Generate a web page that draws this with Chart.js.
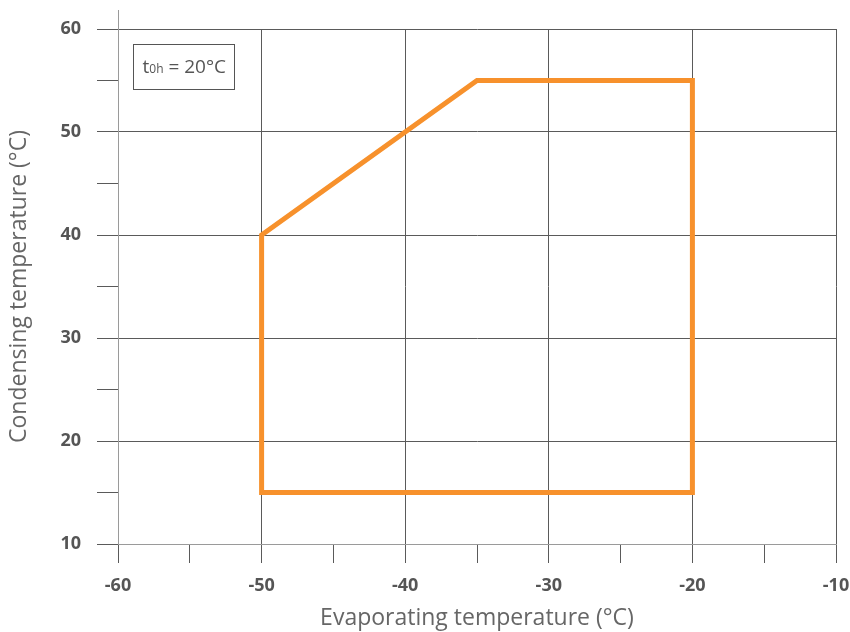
<!DOCTYPE html>
<html>
<head>
<meta charset="utf-8">
<script src="https://cdn.jsdelivr.net/npm/chart.js@4"></script>
<style>
  html, body { margin: 0; padding: 0; background: #fff; }
  #wrap { width: 850px; height: 632px; }
</style>
</head>
<body>
<div id="wrap"><canvas id="myChart" width="850" height="632"></canvas></div>
<script>
// operating envelope corners, walked round and closed
var evapTemps = [-50, -50, -35, -20, -20, -50]
var condTemps = [15, 40, 55, 55, 15, 15]
var xTickLabels = [-60, -50, -40, -30, -20, -10]
var yTickLabels = [10, 20, 30, 40, 50, 60]
var noteText = ['t', '0h', ' = 20°C']

var points = []
for (var i = 0; i < evapTemps.length; i++) {
    points.push({x: evapTemps[i], y: condTemps[i]})
}

var gridCol = '#5a5a5a'
var axisCol = '#9a9a9a'
var labelFont = {family: 'Open Sans', size: 18, weight: 'bold'}
var titleFont = {family: 'Open Sans', size: 23}

function majorOnly(list) {
    return function (value) { return list.indexOf(value) >= 0 ? String(value) : '' }
}

// extra bits: y axis stub above the plot and the t0h note box
var extras = {
    id: 'extras',
    afterDraw: function (chart) {
        var c = chart.ctx, a = chart.chartArea
        c.save()
        c.strokeStyle = axisCol
        c.lineWidth = 1
        c.beginPath()
        c.moveTo(a.left + 0.5, a.top)
        c.lineTo(a.left + 0.5, a.top - 19)
        c.stroke()

        var bx = a.left + 15.5, by = a.top + 15.5, bw = 101, bh = 45
        c.strokeStyle = '#555'
        c.strokeRect(bx, by, bw, bh)
        c.fillStyle = '#555'
        c.textBaseline = 'alphabetic'
        var ty = by + 28
        c.font = '19px "Open Sans"'
        var tx = bx + 9
        c.fillText(noteText[0], tx, ty)
        tx += c.measureText(noteText[0]).width
        c.font = '12px "Open Sans"'
        c.fillText(noteText[1], tx, ty)
        tx += c.measureText(noteText[1]).width
        c.font = '19px "Open Sans"'
        c.fillText(noteText[2], tx, ty)
        c.restore()
    }
}

var ctx = document.getElementById('myChart').getContext('2d')
var myChart = new Chart(ctx, {
    type: 'scatter',
    data: {
        datasets: [{
            data: points,
            showLine: true,
            borderColor: '#f7912c',
            borderWidth: 5,
            borderJoinStyle: 'miter',
            borderCapStyle: 'square',
            pointRadius: 0,
            fill: false
        }]
    },
    options: {
        responsive: false,
        animation: false,
        layout: {padding: {top: 29, right: 14, left: 0, bottom: 0}},
        plugins: {legend: {display: false}, tooltip: {enabled: false}},
        scales: {
            x: {
                type: 'linear',
                min: -60,
                max: -10,
                ticks: {
                    stepSize: 5,
                    autoSkip: false,
                    maxRotation: 0,
                    padding: 12,
                    color: '#555',
                    font: labelFont,
                    callback: majorOnly(xTickLabels)
                },
                grid: {
                    color: function (c) { return c.tick.value % 10 === 0 ? gridCol : 'rgba(0,0,0,0)' },
                    tickColor: gridCol,
                    tickLength: 19,
                    lineWidth: 1
                },
                border: {color: axisCol},
                title: {
                    display: true,
                    text: 'Evaporating temperature (°C)',
                    color: '#666',
                    font: titleFont,
                    padding: {top: 6, bottom: 0}
                },
                afterFit: function (s) {
                    s.height = 88
                    s.paddingLeft = 0
                    s.paddingRight = 0
                }
            },
            y: {
                min: 10,
                max: 60,
                ticks: {
                    stepSize: 5,
                    autoSkip: false,
                    padding: 16,
                    color: '#555',
                    font: labelFont,
                    callback: majorOnly(yTickLabels)
                },
                grid: {
                    color: function (c) { return c.tick.value % 10 === 0 ? gridCol : 'rgba(0,0,0,0)' },
                    tickColor: gridCol,
                    tickLength: 21,
                    lineWidth: 1
                },
                border: {color: axisCol},
                title: {
                    display: true,
                    text: 'Condensing temperature (°C)',
                    color: '#666',
                    font: titleFont,
                    padding: {top: 6, bottom: 4}
                },
                afterFit: function (s) {
                    s.width = 118
                    s.paddingTop = 0
                    s.paddingBottom = 0
                }
            }
        }
    },
    plugins: [extras]
})
</script>
</body>
</html>
